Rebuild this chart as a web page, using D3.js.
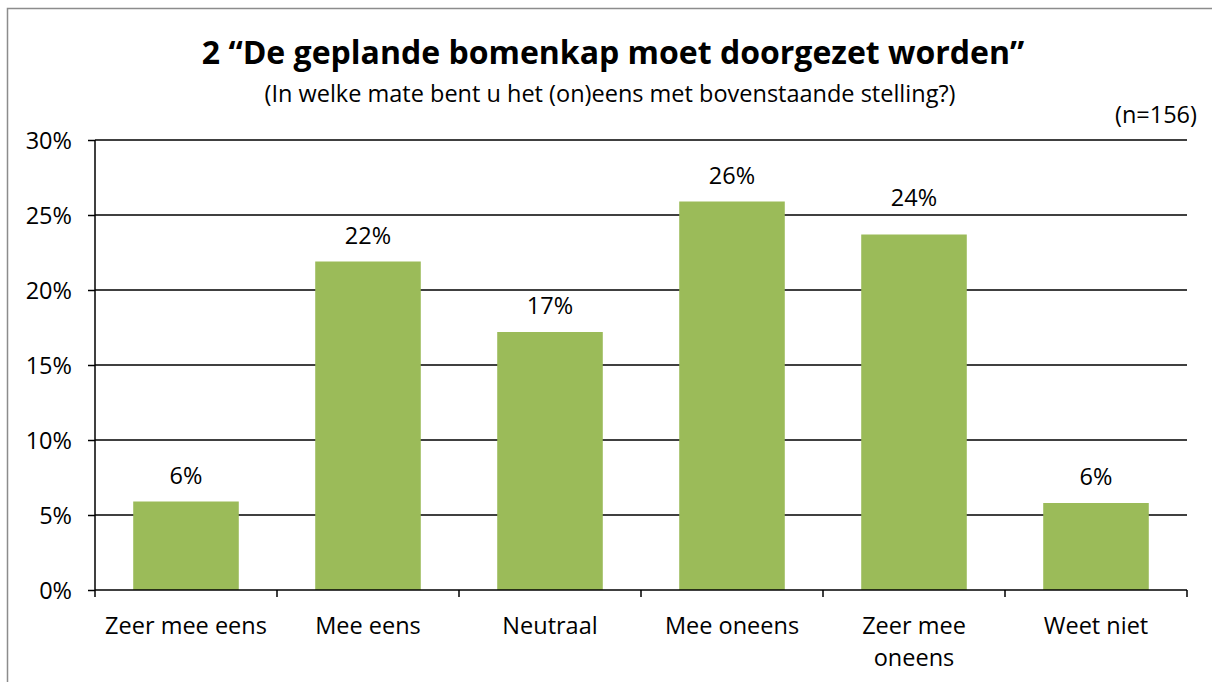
<!DOCTYPE html>
<html>
<head>
<meta charset="utf-8">
<script src="https://cdn.jsdelivr.net/npm/d3@7"></script>
<style>
  body { margin: 0; background: #fff; }
  text { font-family: "Open Sans", sans-serif; fill: #000; }
</style>
</head>
<body>
<svg id="chart" width="1212" height="682"></svg>
<script>
var categories = [["Zeer mee eens"], ["Mee eens"], ["Neutraal"], ["Mee oneens"], ["Zeer mee", "oneens"], ["Weet niet"]];
var values = [5.9, 21.9, 17.2, 25.9, 23.7, 5.8];
var valueLabels = ["6%", "22%", "17%", "26%", "24%", "6%"];
var yTicks = [0, 5, 10, 15, 20, 25, 30];

var svg = d3.select("#chart");

// outer chart border
svg.append("rect")
    .attr("x", 7.5).attr("y", 8.5)
    .attr("width", 1220).attr("height", 700)
    .attr("fill", "none")
    .attr("stroke", "#8c8c8c")
    .attr("stroke-width", 1.5);

var plotLeft = 95, plotRight = 1187, plotTop = 140, plotBottom = 590;
var fontSize = "23.5px";

var x = d3.scaleBand()
    .domain(d3.range(categories.length))
    .range([plotLeft, plotRight])
    .paddingInner(0.42)
    .paddingOuter(0.21);

var y = d3.scaleLinear().domain([0, 30]).range([plotBottom, plotTop]);

// gridlines
svg.append("g").selectAll("line").data(yTicks.filter(function (d) { return d > 0; }))
    .enter().append("line")
    .attr("x1", plotLeft).attr("x2", plotRight)
    .attr("y1", function (d) { return y(d); })
    .attr("y2", function (d) { return y(d); })
    .attr("stroke", "#000").attr("stroke-width", 1.5);

// bars
svg.append("g").selectAll("rect").data(values)
    .enter().append("rect")
    .attr("x", function (d, i) { return x(i); })
    .attr("width", x.bandwidth())
    .attr("y", function (d) { return y(d); })
    .attr("height", function (d) { return y(0) - y(d); })
    .attr("fill", "#9bbb59");

// y axis
var yAxis = d3.axisLeft(y).tickValues(yTicks).tickSize(7).tickPadding(16)
    .tickFormat(function (d) { return d + "%"; });
var gy = svg.append("g").attr("transform", "translate(" + plotLeft + ",0)").call(yAxis);
gy.select(".domain").attr("stroke", "#000").attr("stroke-width", 1.5)
    .attr("d", "M0," + plotTop + "V" + plotBottom);
gy.selectAll(".tick line").attr("stroke", "#000").attr("stroke-width", 1.5);
gy.selectAll(".tick text").attr("fill", "#000").attr("dy", "0.36em")
    .style("font-size", fontSize)
    .style("font-family", "'Open Sans', sans-serif");

// x axis baseline and category boundary ticks
svg.append("line")
    .attr("x1", plotLeft).attr("x2", plotRight)
    .attr("y1", plotBottom).attr("y2", plotBottom)
    .attr("stroke", "#000").attr("stroke-width", 1.5);
svg.append("g").selectAll("line").data(d3.range(categories.length + 1))
    .enter().append("line")
    .attr("x1", function (i) { return plotLeft + i * (plotRight - plotLeft) / categories.length; })
    .attr("x2", function (i) { return plotLeft + i * (plotRight - plotLeft) / categories.length; })
    .attr("y1", plotBottom).attr("y2", plotBottom + 7)
    .attr("stroke", "#000").attr("stroke-width", 1.5);

// category labels
var cat = svg.append("g").selectAll("text").data(categories)
    .enter().append("text")
    .attr("text-anchor", "middle")
    .attr("x", function (d, i) { return x(i) + x.bandwidth() / 2; })
    .attr("y", 634)
    .style("font-size", fontSize);
cat.selectAll("tspan").data(function (d) { return d; })
    .enter().append("tspan")
    .attr("x", function () { return d3.select(this.parentNode).attr("x"); })
    .attr("dy", function (d, i) { return i === 0 ? 0 : 32; })
    .text(function (d) { return d; });

// value labels (the "24%" label sits a bit higher in the original, clear of the 25% line)
svg.append("g").selectAll("text").data(values)
    .enter().append("text")
    .attr("text-anchor", "middle")
    .attr("x", function (d, i) { return x(i) + x.bandwidth() / 2; })
    .attr("y", function (d, i) { return y(d) - (i === 4 ? 29 : 18); })
    .style("font-size", fontSize)
    .text(function (d, i) { return valueLabels[i]; });

// titles
svg.append("text")
    .attr("x", 613).attr("y", 64)
    .attr("text-anchor", "middle")
    .style("font-size", "32px").style("font-weight", "bold")
    .text("2 \u201cDe geplande bomenkap moet doorgezet worden\u201d");
svg.append("text")
    .attr("x", 610).attr("y", 102)
    .attr("text-anchor", "middle")
    .style("font-size", fontSize)
    .text("(In welke mate bent u het (on)eens met bovenstaande stelling?)");
svg.append("text")
    .attr("x", 1197).attr("y", 123)
    .attr("text-anchor", "end")
    .style("font-size", fontSize)
    .text("(n=156)");
</script>
</body>
</html>
